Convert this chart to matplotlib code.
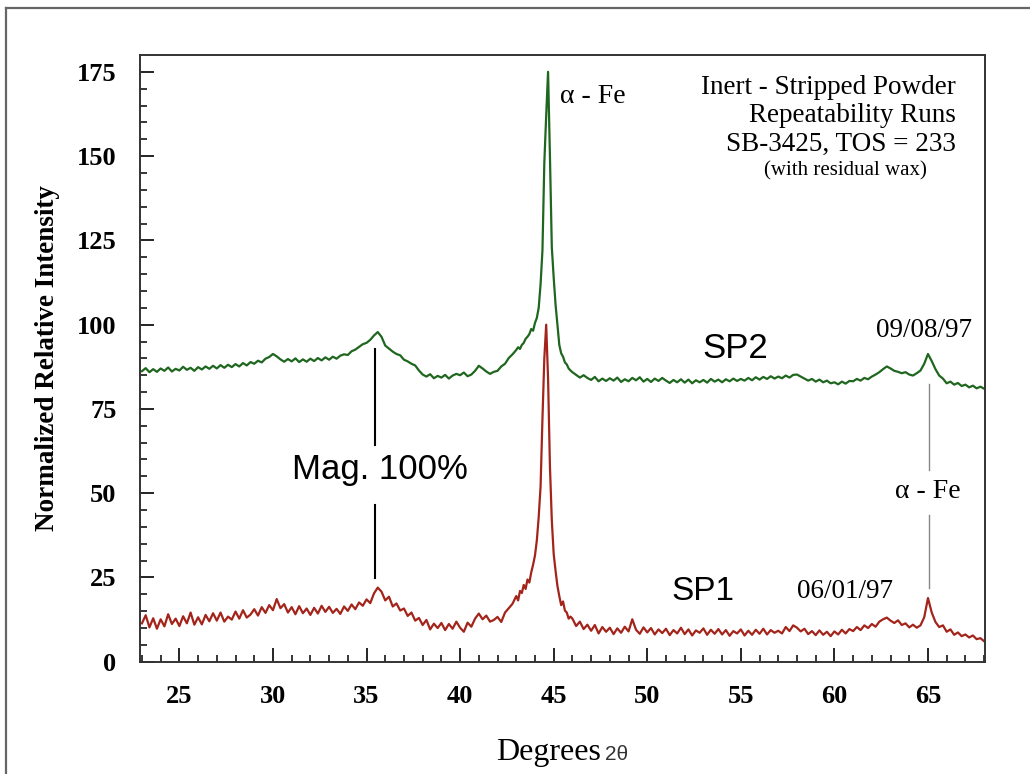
import matplotlib
matplotlib.use("Agg")
import matplotlib.pyplot as plt
from matplotlib.lines import Line2D
import numpy as np

# 2-theta grid: coarse steps on the flat parts, finer steps around the alpha-Fe peak
theta_a = np.round(np.arange(23.0, 42.81, 0.2), 1)
theta_b = np.round(np.arange(43.0, 45.91, 0.1), 1)
theta_c = np.round(np.arange(46.0, 68.01, 0.2), 1)

# SP2 (09/08/97)
sp2_a = [
    86.2, 87.1, 85.9, 86.8, 86.0,   # 23
    87.0, 86.3, 87.3, 86.1, 86.9,   # 24
    86.4, 87.5, 86.6, 87.2, 86.3,   # 25
    87.4, 86.7, 87.6, 86.9, 87.8,   # 26
    87.0, 88.0, 87.2, 88.1, 87.4,   # 27
    88.3, 87.6, 88.6, 87.9, 88.9,   # 28
    88.4, 89.3, 88.8, 89.9, 90.4,   # 29
    91.3, 90.6, 89.7, 89.0, 89.8,   # 30
    89.1, 90.0, 88.9, 89.7, 89.0,   # 31
    89.9, 89.2, 90.1, 89.4, 90.3,   # 32
    89.6, 90.5, 89.9, 90.8, 91.2,   # 33
    91.0, 92.1, 92.6, 93.4, 94.2,   # 34
    94.6, 95.5, 96.8, 97.8, 96.4,   # 35
    93.8, 92.9, 92.0, 91.3, 90.9,   # 36
    89.6, 89.1, 88.4, 87.9, 86.4,   # 37
    85.2, 84.6, 85.3, 84.1, 84.8,   # 38
    84.3, 85.1, 84.0, 84.9, 85.4,   # 39
    85.0, 85.8, 84.7, 85.2, 86.3,   # 40
    87.8, 87.0, 86.1, 85.4, 86.0,   # 41
    86.3, 87.6, 88.4, 90.1, 91.2,   # 42
]
sp2_b = [
    92.5, 93.3, 92.8, 94.0, 94.6, 95.8, 96.4, 97.2, 98.7, 98.2,   # 43
    100.5, 102.0, 105.0, 112.0, 122.0, 148.0, 162.0, 175.0, 150.0, 123.0,   # 44
    114.0, 106.0, 100.0, 94.0, 91.5, 90.5, 88.8, 88.2, 87.0, 86.4,   # 45
]
sp2_c = [
    85.9, 85.1, 84.3, 85.0, 84.2,   # 46
    83.6, 84.5, 83.2, 84.0, 83.3,   # 47
    84.1, 83.4, 84.3, 83.0, 83.8,   # 48
    83.2, 84.2, 83.5, 84.4, 83.1,   # 49
    83.9, 83.0, 84.0, 83.3, 84.2,   # 50
    83.4, 82.7, 83.6, 82.9, 83.8,   # 51
    82.8, 83.7, 82.6, 83.5, 82.9,   # 52
    83.6, 82.8, 83.9, 83.1, 83.7,   # 53
    82.9, 83.8, 83.2, 84.0, 83.3,   # 54
    83.9, 83.4, 84.2, 83.5, 84.4,   # 55
    83.7, 84.5, 83.9, 84.7, 84.0,   # 56
    84.6, 84.1, 84.9, 84.3, 85.1,   # 57
    85.2, 84.6, 84.0, 83.4, 83.9,   # 58
    83.1, 83.7, 82.9, 83.4, 82.6,   # 59
    82.9, 82.3, 83.1, 82.5, 83.3,   # 60
    83.2, 83.9, 83.4, 84.2, 83.8,   # 61
    84.6, 85.2, 85.9, 86.8, 87.6,   # 62
    87.0, 86.3, 86.0, 85.6, 85.9,   # 63
    85.2, 84.9, 85.6, 86.4, 88.4,   # 64
    91.3, 89.2, 86.8, 84.9, 84.0,   # 65
    82.6, 83.1, 82.2, 82.7, 81.8,   # 66
    82.2, 81.4, 81.9, 81.1, 81.6,   # 67
    81.0,                           # 68
]

# SP1 (06/01/97)
sp1_a = [
    11.4, 13.8, 10.2, 12.9, 9.8,    # 23
    12.6, 10.5, 14.1, 11.2, 12.8,   # 24
    10.6, 13.5, 11.4, 14.6, 11.0,   # 25
    13.2, 11.1, 13.9, 12.0, 14.4,   # 26
    12.2, 14.6, 11.9, 13.4, 12.5,   # 27
    14.9, 12.8, 15.3, 13.1, 14.0,   # 28
    15.6, 13.7, 16.2, 14.5, 16.8,   # 29
    15.3, 18.6, 15.9, 17.1, 14.6,   # 30
    16.2, 14.1, 16.5, 14.4, 15.8,   # 31
    13.9, 16.0, 14.3, 16.6, 14.8,   # 32
    16.3, 14.5, 15.7, 14.2, 16.4,   # 33
    15.1, 17.0, 15.6, 17.6, 16.6,   # 34
    18.5, 17.4, 20.3, 22.0, 20.8,   # 35
    18.2, 19.3, 16.4, 17.3, 15.2,   # 36
    15.8, 13.6, 14.6, 12.2, 13.0,   # 37
    10.9, 12.4, 9.6, 11.3, 10.0,    # 38
    11.5, 9.4, 11.2, 9.8, 11.9,     # 39
    10.1, 8.9, 11.6, 10.4, 12.8,    # 40
    14.3, 12.6, 13.7, 11.9, 12.4,   # 41
    13.3, 11.8, 14.6, 15.9, 17.2,   # 42
]
sp1_b = [
    19.5, 18.2, 21.0, 20.4, 22.8, 21.6, 24.4, 23.5, 26.5, 28.8,   # 43
    31.5, 36.0, 43.0, 52.0, 72.0, 90.0, 100.0, 84.0, 58.0, 42.0,  # 44
    32.0, 27.0, 22.5, 19.5, 16.8, 17.9, 15.2, 14.6, 12.8, 13.4,   # 45
]
sp1_c = [
    12.8, 10.6, 11.9, 9.7, 11.0,    # 46
    9.2, 10.9, 8.4, 10.3, 8.9,      # 47
    10.1, 8.2, 9.9, 8.6, 10.4,      # 48
    9.0, 12.6, 9.5, 8.3, 10.2,      # 49
    8.7, 10.0, 8.1, 9.6, 8.5,       # 50
    9.8, 7.9, 9.4, 8.4, 10.1,       # 51
    8.2, 9.6, 7.8, 9.3, 8.6,        # 52
    9.9, 8.0, 9.5, 8.3, 9.7,        # 53
    8.1, 9.4, 7.7, 9.1, 8.4,        # 54
    9.6, 7.8, 9.2, 8.0, 9.5,        # 55
    8.3, 9.8, 8.1, 9.4, 8.6,        # 56
    9.2, 8.4, 10.3, 9.1, 10.8,      # 57
    10.1, 9.0, 9.8, 8.2, 9.1,       # 58
    7.9, 9.3, 8.0, 8.9, 7.6,        # 59
    9.0, 8.1, 9.5, 8.4, 9.7,        # 60
    9.1, 10.3, 9.4, 10.8, 10.0,     # 61
    11.2, 10.4, 11.9, 12.6, 13.1,   # 62
    12.2, 11.5, 12.3, 10.9, 11.4,   # 63
    10.2, 11.0, 10.1, 10.8, 13.2,   # 64
    18.9, 14.6, 11.8, 10.3, 10.8,   # 65
    8.9, 9.6, 8.0, 8.7, 7.6,        # 66
    8.1, 7.2, 7.8, 6.7, 7.0,        # 67
    6.1,                            # 68
]

info_lines = ["Inert - Stripped Powder", "Repeatability Runs", "SB-3425, TOS = 233"]

two_theta = np.concatenate([theta_a, theta_b, theta_c])
sp2 = np.array(sp2_a + sp2_b + sp2_c)
sp1 = np.array(sp1_a + sp1_b + sp1_c)

serif = "Liberation Serif"
sans = "Liberation Sans"

fig = plt.figure(figsize=(10.3, 7.74), dpi=100)
ax = fig.add_axes([0.136, 0.145, 0.820, 0.784])

ax.plot(two_theta, sp2, color="#1f661f", lw=1.6)
ax.plot(two_theta, sp1, color="#a3241a", lw=1.6)

ax.set_xlim(22.9, 68.03)
ax.set_ylim(0, 180)
ax.set_xticks(np.arange(25, 66, 5))
ax.set_xticks(np.arange(23, 69, 1), minor=True)
ax.set_yticks(np.arange(0, 176, 25))
ax.set_yticks(np.arange(0, 180, 5), minor=True)
ax.tick_params(which="major", direction="in", length=10, width=1.2, pad=17)
ax.tick_params(which="minor", direction="in", length=5, width=1.1)
for lab in ax.get_xticklabels() + ax.get_yticklabels():
    lab.set_fontfamily(serif)
    lab.set_fontweight("bold")
    lab.set_fontsize(19)
for sp in ax.spines.values():
    sp.set_linewidth(1.4)
    sp.set_color("#333333")

ax.set_ylabel("Normalized Relative Intensity", fontfamily=serif, fontweight="bold",
              fontsize=19.5, labelpad=12)

fig.text(0.583, 0.018, "Degrees", fontfamily=serif, fontsize=23, ha="right", va="baseline")
fig.text(0.587, 0.018, "2θ", fontfamily=sans, fontsize=15, ha="left", va="baseline",
         color="#333333")

# marker lines
ax.plot([35.43, 35.43], [92.9, 64.3], color="black", lw=1.5)
ax.plot([35.43, 35.43], [46.5, 24.8], color="black", lw=1.5)
ax.plot([65.05, 65.05], [82.5, 56.9], color="#888888", lw=1.0)
ax.plot([65.05, 65.05], [43.5, 21.8], color="#888888", lw=1.0)

ax.text(35.74, 56.9, "Mag. 100%", fontfamily=sans, fontsize=25, ha="center", va="center")
ax.text(54.7, 92.9, "SP2", fontfamily=sans, fontsize=25, ha="center", va="center")
ax.text(52.95, 20.9, "SP1", fontfamily=sans, fontsize=24, ha="center", va="center")
ax.text(45.35, 167.6, "α - Fe", fontfamily=serif, fontsize=20, ha="left", va="center")
ax.text(64.98, 50.5, "α - Fe", fontfamily=serif, fontsize=20, ha="center", va="center")
ax.text(64.8, 98.3, "09/08/97", fontfamily=serif, fontsize=19.5, ha="center", va="center")
ax.text(60.58, 20.9, "06/01/97", fontfamily=serif, fontsize=19.5, ha="center", va="center")

for txt, yy in zip(info_lines, [170.2, 162.0, 153.6]):
    ax.text(66.5, yy, txt, fontfamily=serif, fontsize=19.5, ha="right", va="center")
ax.text(64.96, 145.6, "(with residual wax)", fontfamily=serif, fontsize=15, ha="right", va="center")

# outer frame of the original figure
fig.add_artist(Line2D([6 / 1030, 1], [1 - 8 / 774, 1 - 8 / 774], color="#666666", lw=1.6))
fig.add_artist(Line2D([6 / 1030, 6 / 1030], [0, 1 - 8 / 774], color="#666666", lw=1.6))

fig.savefig("out.png", dpi=100)
